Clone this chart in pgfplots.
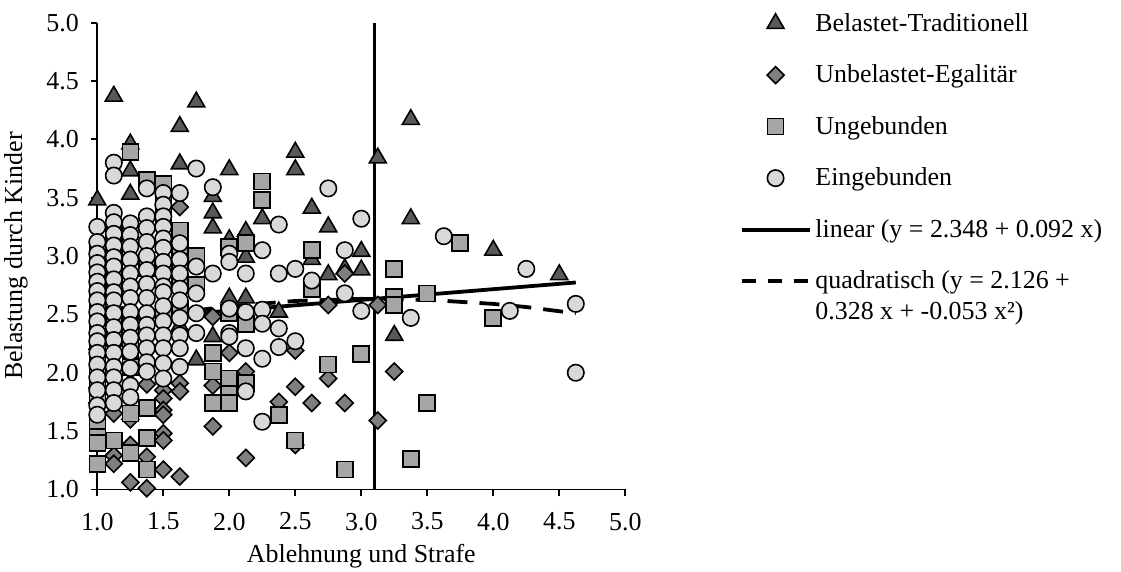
\documentclass[border=0pt]{standalone}
\usepackage{fontspec}
\setmainfont{Liberation Serif}
\usepackage{pgfplots}
\usepackage{pgfplotstable}
\pgfplotsset{compat=1.18}
\definecolor{cT}{HTML}{595959}
\definecolor{cD}{HTML}{7F7F7F}
\definecolor{cS}{HTML}{A6A6A6}
\definecolor{cC}{HTML}{D9D9D9}

\pgfplotstableread{
x y
1 3.48
1.125 4.37
1.125 2.50
1.25 3.96
1.25 3.73
1.25 3.53
1.375 2.97
1.5 3.00
1.625 4.11
1.625 3.79
1.625 2.40
1.75 4.32
1.75 2.11
1.875 3.51
1.875 3.37
1.875 3.24
1.875 2.31
2 3.74
2 3.14
2 2.64
2.125 3.21
2.125 2.99
2.125 2.64
2.25 3.32
2.375 2.52
2.5 3.89
2.5 3.74
2.625 3.41
2.625 2.97
2.75 3.25
2.75 2.84
2.875 2.89
3 3.04
3 2.88
3.125 3.84
3.25 2.32
3.375 4.17
3.375 3.32
4 3.05
4.5 2.84
}\tradi

\pgfplotstableread{
x y
1 2.20
1 1.87
1 1.74
1.125 1.97
1.125 1.94
1.125 1.65
1.125 1.29
1.125 1.22
1.25 2.02
1.25 1.60
1.25 1.38
1.25 1.06
1.375 1.90
1.375 1.28
1.375 1.01
1.5 1.85
1.5 1.78
1.5 1.68
1.5 1.64
1.5 1.48
1.5 1.42
1.5 1.17
1.625 3.42
1.625 1.91
1.625 1.84
1.625 1.11
1.875 2.48
1.875 1.89
1.875 1.54
2 2.17
2.125 2.01
2.125 1.27
2.375 1.75
2.5 2.19
2.5 1.88
2.5 1.38
2.625 1.74
2.75 2.58
2.75 1.95
2.875 2.85
2.875 1.74
3.125 2.58
3.125 1.59
3.25 2.01
}\egal

\pgfplotstableread{
x y
1 3.08
1 2.98
1 2.88
1 2.78
1 2.68
1 2.58
1 2.48
1 2.38
1 2.28
1 2.18
1 2.08
1 1.98
1 1.88
1 1.81
1 1.60
1 1.53
1 1.45
1 1.40
1 1.22
1.125 3.20
1.125 3.00
1.125 2.90
1.125 2.75
1.125 2.50
1.125 2.30
1.125 1.42
1.25 3.89
1.25 2.34
1.25 2.20
1.25 2.05
1.25 1.65
1.25 1.31
1.375 3.65
1.375 2.90
1.375 1.70
1.375 1.44
1.375 1.17
1.5 3.62
1.5 3.45
1.5 3.30
1.5 3.10
1.5 2.90
1.5 2.50
1.625 3.22
1.625 3.08
1.625 2.95
1.625 2.78
1.625 2.55
1.75 3.00
1.75 2.75
1.875 2.17
1.875 2.01
1.875 1.74
2 3.08
2 2.51
2 1.95
2 1.82
2 1.74
2.125 3.11
2.125 2.42
2.125 1.91
2.25 3.64
2.25 3.48
2.375 1.64
2.5 1.42
2.625 3.05
2.625 2.72
2.75 2.07
2.875 1.17
3 2.16
3.25 2.89
3.25 2.65
3.25 2.58
3.375 1.26
3.5 2.68
3.5 1.74
3.75 3.11
4 2.47
}\ungeb

\pgfplotstableread{
x y
1 3.25
1 3.12
1 3.02
1 2.94
1 2.86
1 2.78
1 2.70
1 2.62
1 2.52
1 2.44
1 2.34
1 2.27
1 2.17
1 2.07
1 1.96
1 1.85
1 1.72
1 1.64
1.125 3.80
1.125 3.69
1.125 3.37
1.125 3.29
1.125 3.19
1.125 3.09
1.125 2.99
1.125 2.91
1.125 2.80
1.125 2.69
1.125 2.62
1.125 2.51
1.125 2.39
1.125 2.28
1.125 2.17
1.125 2.05
1.125 1.96
1.125 1.85
1.125 1.74
1.25 3.28
1.25 3.18
1.25 3.08
1.25 2.97
1.25 2.85
1.25 2.74
1.25 2.64
1.25 2.52
1.25 2.41
1.25 2.30
1.25 2.18
1.25 2.04
1.25 1.89
1.25 1.79
1.375 3.58
1.375 3.34
1.375 3.24
1.375 3.12
1.375 3.00
1.375 2.88
1.375 2.76
1.375 2.64
1.375 2.51
1.375 2.41
1.375 2.32
1.375 2.21
1.375 2.09
1.375 2.01
1.5 3.54
1.5 3.44
1.5 3.34
1.5 3.25
1.5 3.15
1.5 3.07
1.5 2.95
1.5 2.85
1.5 2.74
1.5 2.69
1.5 2.57
1.5 2.44
1.5 2.32
1.5 2.21
1.5 2.08
1.5 1.95
1.625 3.54
1.625 3.11
1.625 2.97
1.625 2.85
1.625 2.72
1.625 2.62
1.625 2.47
1.625 2.32
1.625 2.21
1.625 2.05
1.75 3.75
1.75 2.91
1.75 2.68
1.75 2.51
1.75 2.34
1.875 3.59
1.875 2.85
2 3.02
2 2.95
2 2.55
2 2.34
2 2.31
2.125 2.85
2.125 2.52
2.125 2.21
2.125 1.84
2.25 3.05
2.25 2.54
2.25 2.42
2.25 2.12
2.25 1.58
2.375 3.27
2.375 2.85
2.375 2.38
2.375 2.22
2.5 2.89
2.5 2.27
2.625 2.79
2.75 3.58
2.875 3.05
2.875 2.68
3 3.32
3 2.53
3.375 2.47
3.625 3.17
4.125 2.53
4.25 2.89
4.625 2.59
4.625 2.00
}\eingeb

\begin{document}
\begin{tikzpicture}[font=\fontsize{13}{15.6}\selectfont]
\useasboundingbox (-48.65bp,-41.3bp) rectangle (511.85bp,244.7bp);
\begin{axis}[
  name=ax,
  at={(0,0)}, anchor=south west,
  scale only axis, width=264bp, height=233.35bp,
  xmin=1, xmax=5, ymin=1, ymax=5,
  axis lines*=left,
  axis line style={line width=0.9pt, black},
  every tick/.style={line width=0.9pt, black},
  tick align=outside, major tick length=3.2bp,
  xtick={1,1.5,2,2.5,3,3.5,4,4.5,5},
  ytick={1,1.5,2,2.5,3,3.5,4,4.5,5},
  /pgf/number format/fixed,
  /pgf/number format/fixed zerofill,
  /pgf/number format/precision=1,
  /pgf/number format/assume math mode=true,
  xticklabel style={yshift=-5bp},
  yticklabel style={xshift=-2.5bp},
  clip=false,
  xlabel={Ablehnung und Strafe},
  ylabel={Belastung durch Kinder},
  xlabel style={at={(axis description cs:0.5,0)}, anchor=center, yshift=-33.3bp},
  ylabel style={at={(axis description cs:-0.1540,0.5)}, anchor=center},
  legend image code/.code={\draw[mark repeat=2,mark phase=2] plot coordinates {(0bp,0bp) (17bp,0bp) (34bp,0bp)};},
  legend cell align=left,
  legend style={draw=none, fill=none, at={(1,1)}, anchor=north west, xshift=54bp, yshift=9bp,
    row sep=11.3bp, cells={align=left}},
]
\addplot[only marks, mark=triangle*, mark size=4.9bp, mark options={fill=cT, draw=black, line width=0.8pt}] table {\tradi};
\addlegendentry{Belastet-Traditionell}
\addplot[only marks, mark=square*, mark size=3bp, mark options={rotate=45, fill=cD, draw=black, line width=0.8pt}] table {\egal};
\addlegendentry{Unbelastet-Egalitär}
\addplot[only marks, mark=square*, mark size=4bp, mark options={fill=cS, draw=black, line width=0.8pt}] table {\ungeb};
\addlegendentry{Ungebunden}
\addplot[only marks, mark=*, mark size=4.1bp, mark options={fill=cC, draw=black, line width=0.8pt}] table {\eingeb};
\addlegendentry{Eingebunden}
\addplot[black, line width=1.9pt, no marks] coordinates {(1,2.44) (4.625,2.7735)};
\addlegendentry{linear (y = 2.348 + 0.092 x)}
\addplot[black, line width=1.9pt, no marks, dash pattern=on 10bp off 6bp,
  legend image code/.code={\draw[dash pattern=on 7bp off 6bp] (0bp,7.8bp) -- (34bp,7.8bp);}] coordinates {
(1,2.401) (1.5,2.499) (2,2.570) (2.5,2.615) (3,2.633) (3.5,2.625) (4,2.590) (4.25,2.563) (4.625,2.509)};
\addlegendentry{quadratisch (y = 2.126 +\\0.328 x + -0.053 x²)}
\addplot[black, line width=1.5pt, forget plot] coordinates {(3.1,1) (3.1,5)};
\end{axis}
\end{tikzpicture}
\end{document}
